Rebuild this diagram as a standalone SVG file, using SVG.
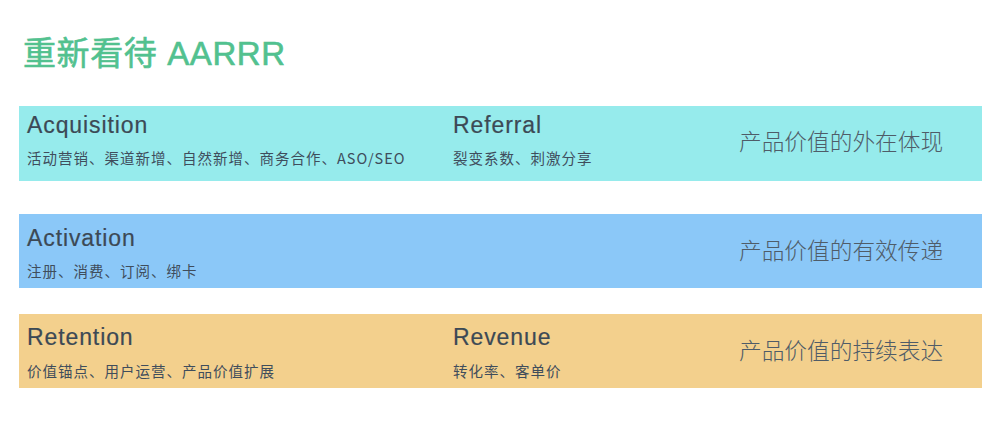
<svg xmlns="http://www.w3.org/2000/svg" width="1007" height="441" viewBox="0 0 1007 441">
<style>
.title{font-family:"Liberation Sans","Noto Sans CJK SC",sans-serif;font-size:33px;letter-spacing:0.6px;fill:#52c18f;stroke:#52c18f;stroke-width:0.6;}
.h{font-family:"Liberation Sans","Noto Sans CJK SC",sans-serif;font-size:23px;letter-spacing:0.9px;fill:#3c4955;stroke:#3c4955;stroke-width:0.2;}
.s{font-family:"Noto Sans CJK SC",sans-serif;font-size:14.5px;letter-spacing:1px;fill:#3f4d5c;}
.r{font-family:"Noto Sans CJK SC",sans-serif;font-size:22.7px;font-weight:300;fill:#4f5c68;}
</style>
<rect width="1007" height="441" fill="#ffffff"/>
<text class="title" x="23" y="65">重新看待 AARRR</text>
<g id="band-acquisition">
<rect x="19" y="106" width="963" height="75" fill="#96ebec"/>
<text class="h" x="27" y="133">Acquisition</text>
<text class="s" x="27" y="164">活动营销、渠道新增、自然新增、商务合作、ASO/SEO</text>
<text class="h" x="453" y="133">Referral</text>
<text class="s" x="453" y="164">裂变系数、刺激分享</text>
<text class="r" x="739" y="150">产品价值的外在体现</text>
</g>
<g id="band-activation">
<rect x="19" y="214" width="963" height="74" fill="#8bc8f8"/>
<text class="h" x="27" y="246">Activation</text>
<text class="s" x="27" y="277">注册、消费、订阅、绑卡</text>
<text class="r" x="739" y="259">产品价值的有效传递</text>
</g>
<g id="band-retention">
<rect x="19" y="314" width="963" height="74" fill="#f3d08d"/>
<text class="h" x="27" y="345">Retention</text>
<text class="s" x="27" y="377">价值锚点、用户运营、产品价值扩展</text>
<text class="h" x="453" y="345">Revenue</text>
<text class="s" x="453" y="377">转化率、客单价</text>
<text class="r" x="739" y="359">产品价值的持续表达</text>
</g>
<g id="connectors"></g>
</svg>
